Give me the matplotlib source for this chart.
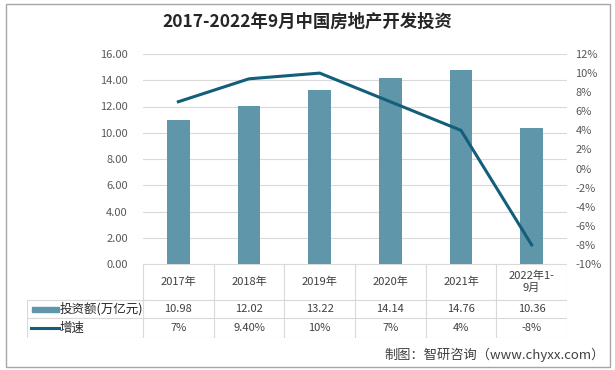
import matplotlib
matplotlib.use("Agg")
import matplotlib.pyplot as plt
from matplotlib.patches import Rectangle

plt.rcParams['font.family'] = ['Noto Sans CJK SC', 'DejaVu Sans']

categories = ["2017年", "2018年", "2019年", "2020年", "2021年", "2022年1-\n9月"]
investment = [10.98, 12.02, 13.22, 14.14, 14.76, 10.36]
growth = [7.0, 9.4, 10.0, 7.0, 4.0, -8.0]
investment_labels = ["10.98", "12.02", "13.22", "14.14", "14.76", "10.36"]
growth_labels = ["7%", "9.40%", "10%", "7%", "4%", "-8%"]
series_names = ["投资额(万亿元)", "增速"]
title = "2017-2022年9月中国房地产开发投资"
source = "制图：智研咨询（www.chyxx.com）"

W, H = 615, 370
bar_color = "#6096aa"
line_color = "#135e78"
grid_color = "#d9d9d9"
tick_color = "#595959"
fs = 8

fig = plt.figure(figsize=(W / 100, H / 100), dpi=100)

def fx(px):
    return px / W

def fy(py):
    return 1 - py / H

fig.patches.append(Rectangle((fx(6), fy(367)), fx(604), 363 / H, transform=fig.transFigure,
                             fill=False, edgecolor="#a6a6a6", linewidth=1))

fig.text(0.5, fy(22), title, ha="center", va="center", fontsize=12.5,
         fontweight="bold", color="#262626")

L, R, T, B = 143, 567, 54, 264
ax = fig.add_axes([fx(L), fy(B), fx(R - L), (B - T) / H])
x = list(range(len(categories)))
ax.bar(x, investment, width=0.32, color=bar_color, zorder=2)
ax.set_xlim(-0.5, len(categories) - 0.5)
ax.set_ylim(0, 16)
ax.set_yticks([i * 2 for i in range(9)])
ax.set_yticklabels([f"{i * 2:.2f}" for i in range(9)], fontsize=fs, color=tick_color)
ax.grid(axis="y", color=grid_color, linewidth=0.8, zorder=0)
ax.set_xticks([])
ax.tick_params(axis="y", length=0, pad=11)
for s in ["top", "right", "left", "bottom"]:
    ax.spines[s].set_visible(False)

ax2 = ax.twinx()
ax2.plot(x, growth, color=line_color, linewidth=2.2, zorder=3)
ax2.set_ylim(-10, 12)
ax2.set_yticks(list(range(-10, 13, 2)))
ax2.set_yticklabels([f"{v}%" for v in range(-10, 13, 2)], fontsize=fs, color=tick_color)
ax2.tick_params(axis="y", length=0, pad=6)
for s in ["top", "right", "left", "bottom"]:
    ax2.spines[s].set_visible(False)

TL = 27
TB = 338
tax = fig.add_axes([fx(TL), fy(TB), fx(R - TL), (TB - B) / H])
cat_w = (R - L) / len(categories)
left_units = (L - TL) / cat_w
tax.set_xlim(-0.5 - left_units, len(categories) - 0.5)
tax.set_ylim(0, TB - B)
tax.axis("off")
lw = 0.8
ytop = TB - B
y1 = TB - 300
y2 = TB - 318
tax.plot([-0.5, len(categories) - 0.5], [ytop, ytop], color=grid_color, lw=lw)
for yy in (y1, y2, 0):
    tax.plot([-0.5 - left_units, len(categories) - 0.5], [yy, yy], color=grid_color, lw=lw)
for i in range(len(categories) + 1):
    tax.plot([i - 0.5, i - 0.5], [0, ytop], color=grid_color, lw=lw)
tax.plot([-0.5 - left_units] * 2, [0, y1], color=grid_color, lw=lw)

for i, c in enumerate(categories):
    tax.text(i, (ytop + y1) / 2, c, ha="center", va="center", fontsize=fs,
             color="#404040", linespacing=1.2)
    tax.text(i, (y1 + y2) / 2, investment_labels[i], ha="center", va="center",
             fontsize=fs, color="#404040")
    tax.text(i, y2 / 2, growth_labels[i], ha="center", va="center",
             fontsize=fs, color="#404040")

x0 = -0.5 - left_units
u = 1 / cat_w
tax.add_patch(Rectangle((x0 + 5 * u, (y1 + y2) / 2 - 2.5), 27 * u, 5, color=bar_color))
tax.plot([x0 + 4 * u, x0 + 32 * u], [y2 / 2, y2 / 2], color=line_color, lw=2.2)
tax.text(x0 + 33 * u, (y1 + y2) / 2, series_names[0], ha="left", va="center",
         fontsize=9, color="#262626")
tax.text(x0 + 33 * u, y2 / 2, series_names[1], ha="left", va="center",
         fontsize=9, color="#262626")

fig.text(fx(605), fy(355), source, ha="right", va="center", fontsize=9.5, color="#404040")

fig.savefig("out.png", dpi=100)
